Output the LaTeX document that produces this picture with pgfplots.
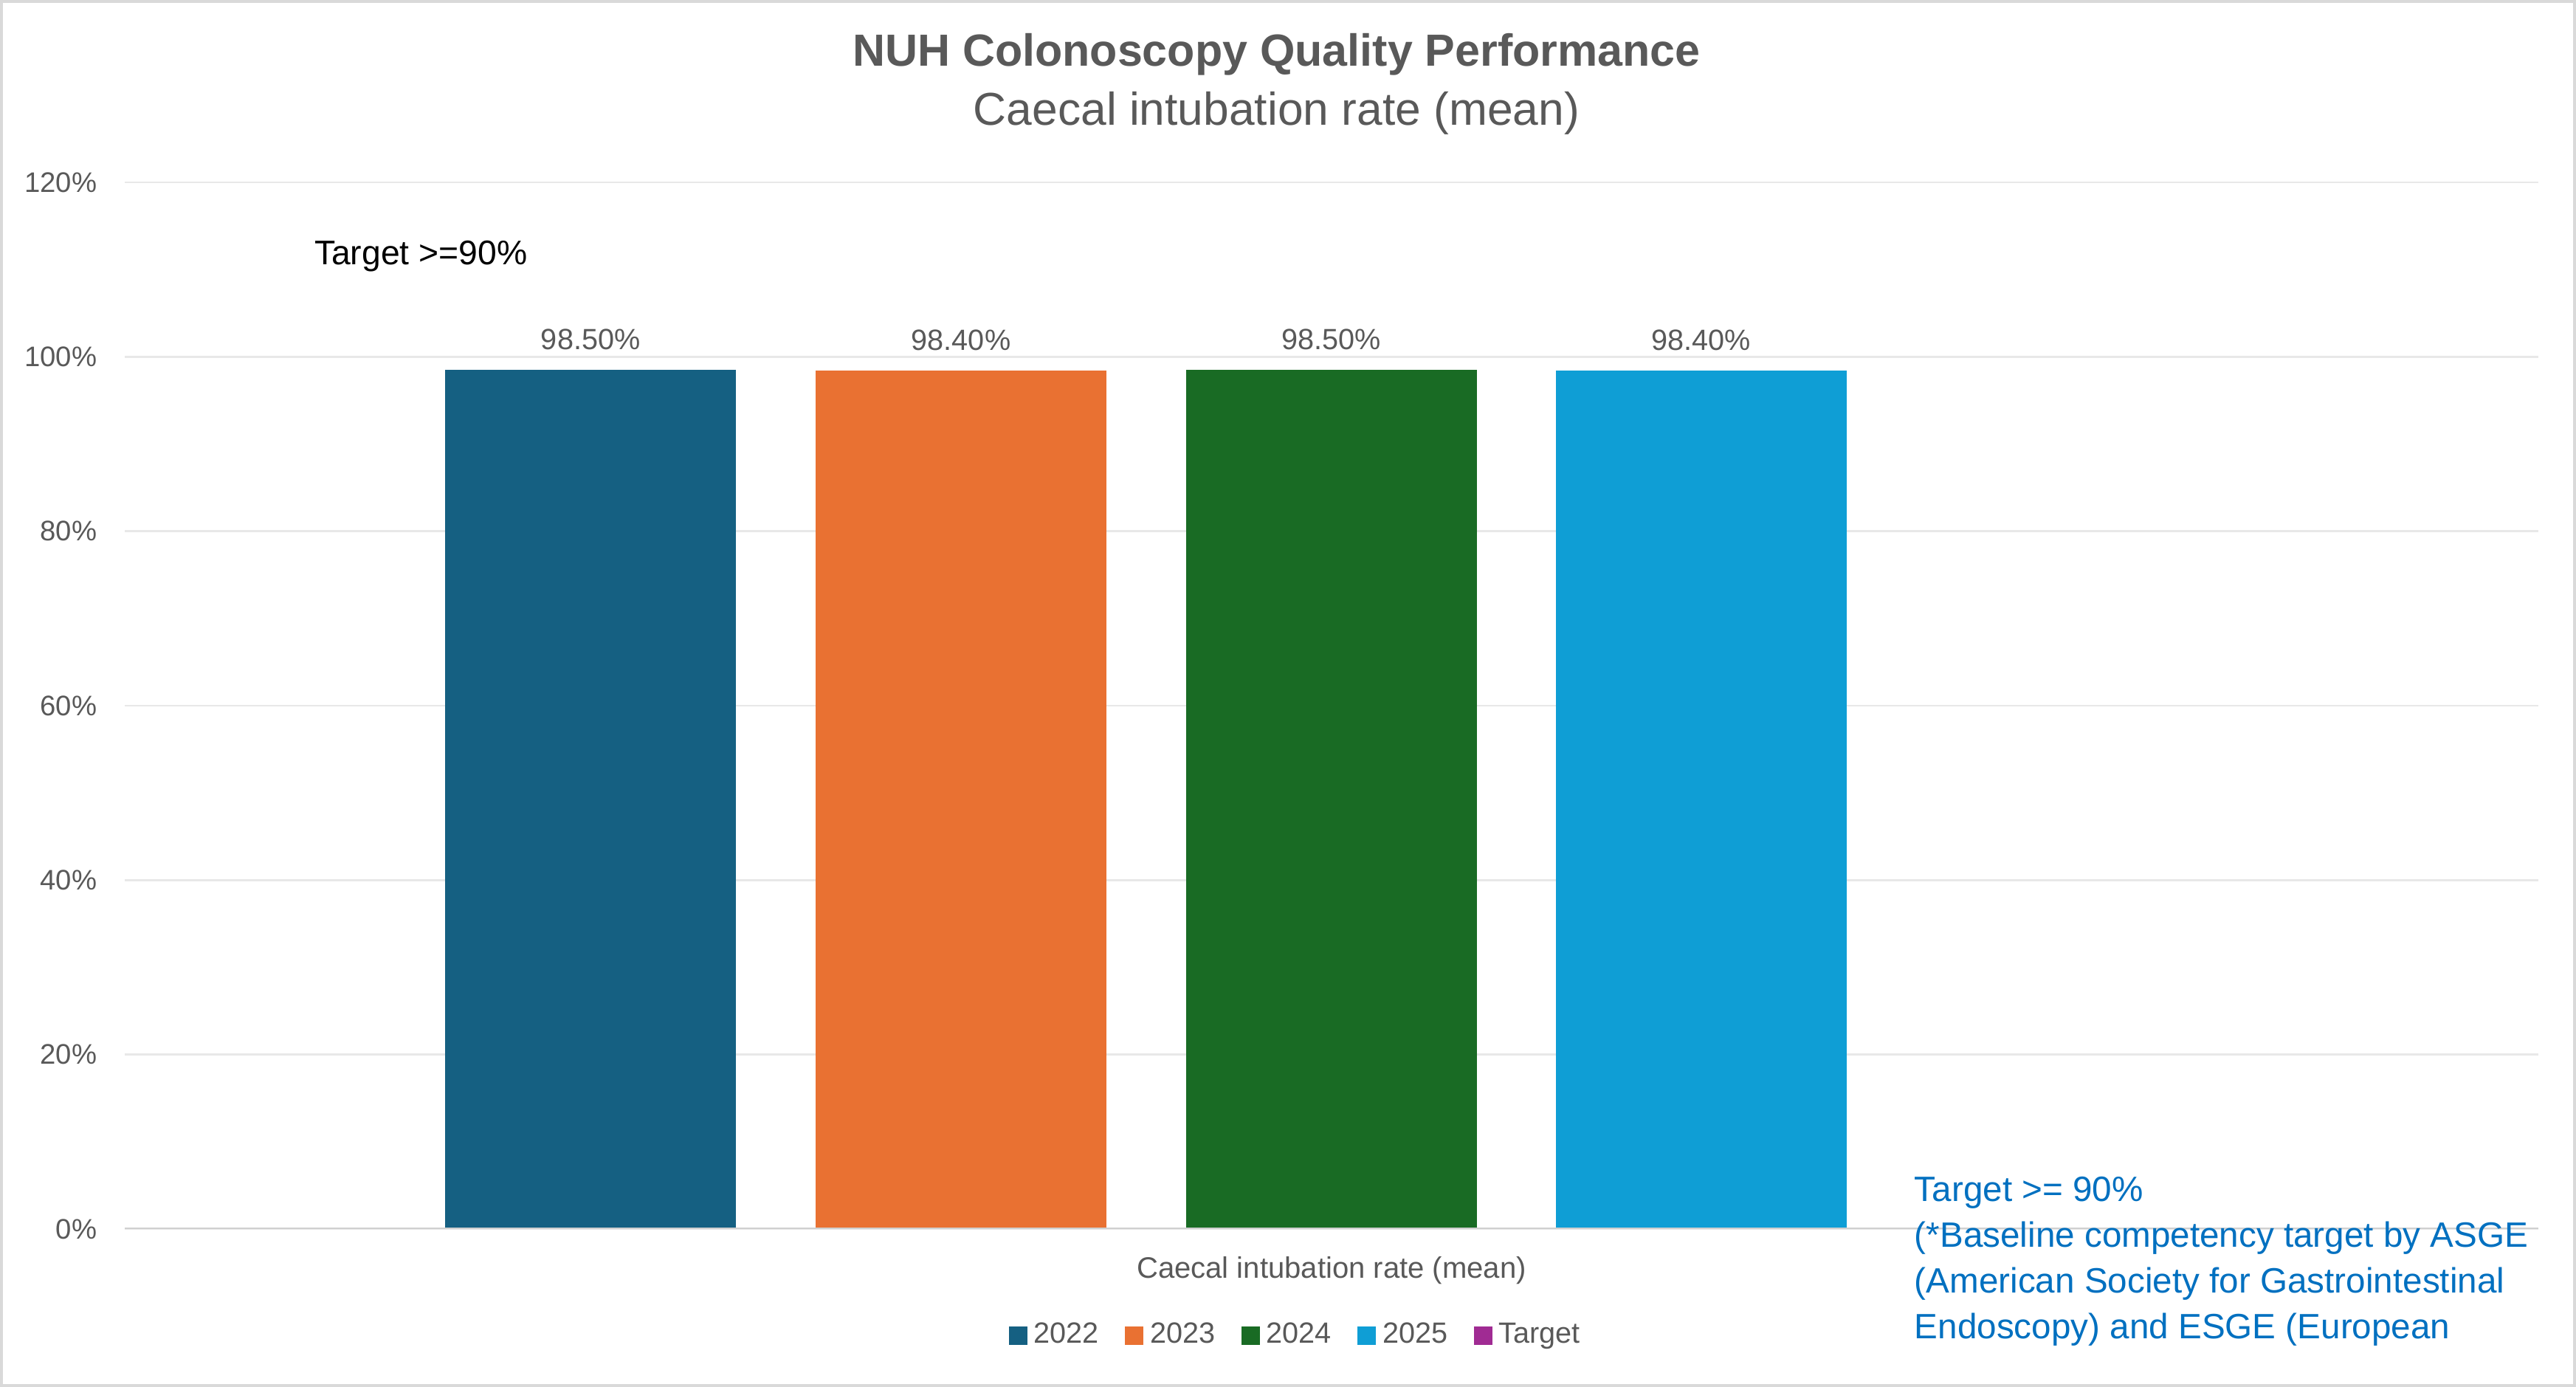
\documentclass[border=0pt]{standalone}
\usepackage{fontspec}
\setmainfont{Liberation Sans}
\usepackage{pgfplots}
\pgfplotsset{compat=1.18}
\definecolor{c22}{HTML}{156082}
\definecolor{c23}{HTML}{E97132}
\definecolor{c24}{HTML}{196B24}
\definecolor{c25}{HTML}{0F9ED5}
\definecolor{ctg}{HTML}{A02B93}
\definecolor{txt}{HTML}{595959}
\definecolor{gridc}{HTML}{E8E8E8}
\definecolor{axisc}{HTML}{D0D0D0}
\definecolor{borderc}{HTML}{D9D9D9}
\definecolor{note}{HTML}{0070C0}
\begin{document}
\begin{tikzpicture}
\useasboundingbox (0,0) rectangle (784pt,422pt);
\fill[white] (0,0) rectangle (784pt,422pt);
\draw[color=borderc, line width=0.8pt] (0.4pt,0.4pt) rectangle (783.6pt,421.6pt);
\begin{axis}[
  at={(38pt,48pt)}, anchor=south west,
  scale only axis, width=734.5pt, height=318.5pt,
  xmin=-1, xmax=1, ymin=0, ymax=120,
  ybar, bar width=88.5pt,
  axis line style={draw=none},
  tick style={draw=none}, major tick length=0pt,
  ytick={0,20,...,120},
  yticklabel={\pgfmathprintnumber{\tick}\%},
  xtick={0}, xticklabels={Caecal intubation rate (mean)},
  ymajorgrids, grid style={color=gridc, line width=0.6pt},
  /pgf/number format/assume math mode=true,
  yticklabel style={font=\fontsize{8.6}{10}\selectfont, text=txt, xshift=-5pt},
  xticklabel style={font=\fontsize{9}{10}\selectfont, text=txt, yshift=-5pt},
  nodes near coords={\pgfmathprintnumber[fixed,fixed zerofill,precision=2]{\pgfplotspointmeta}\%},
  every node near coord/.append style={font=\fontsize{8.9}{10}\selectfont, text=txt, yshift=2.5pt},
  legend image code/.code={\fill[#1] (0pt,-2.8pt) rectangle (5.6pt,2.8pt);},
  legend columns=-1,
  legend style={draw=none, fill=none, at={(0.486,-0.102)}, anchor=center,
    font=\fontsize{8.9}{10}\selectfont, text=txt,
    nodes={inner sep=2pt},
    /tikz/every even column/.append style={column sep=6pt}},
]
\addplot[fill=c22, draw=none, bar shift=-225.5pt] coordinates {(0,98.5)};
\addplot[fill=c23, draw=none, bar shift=-112.75pt] coordinates {(0,98.4)};
\addplot[fill=c24, draw=none, bar shift=0pt] coordinates {(0,98.5)};
\addplot[fill=c25, draw=none, bar shift=112.5pt] coordinates {(0,98.4)};
\addlegendimage{fill=ctg, draw=none}
\legend{2022,2023,2024,2025,Target}
\draw[axisc, line width=0.8pt] (rel axis cs:0,0) -- (rel axis cs:1,0);
\end{axis}
\node[font=\bfseries\fontsize{13.7}{16}\selectfont, text=txt] at (388.5pt,405.5pt) {NUH Colonoscopy Quality Performance};
\node[font=\fontsize{14}{16}\selectfont, text=txt] at (388.5pt,387.5pt) {Caecal intubation rate (mean)};
\node[anchor=west, font=\fontsize{10.4}{12}\selectfont, inner sep=0pt] at (95.5pt,344pt) {Target >=90\%};
\begin{scope}[every node/.style={anchor=base west, inner sep=0pt, text=note, font=\fontsize{10.7}{14}\selectfont}]
\node at (582.5pt,56.5pt) {Target >= 90\%};
\node at (582.5pt,42.5pt) {(*Baseline competency target by ASGE};
\node at (582.5pt,28.5pt) {(American Society for Gastrointestinal};
\node at (582.5pt,14.5pt) {Endoscopy) and ESGE (European};
\end{scope}
\end{tikzpicture}
\end{document}
